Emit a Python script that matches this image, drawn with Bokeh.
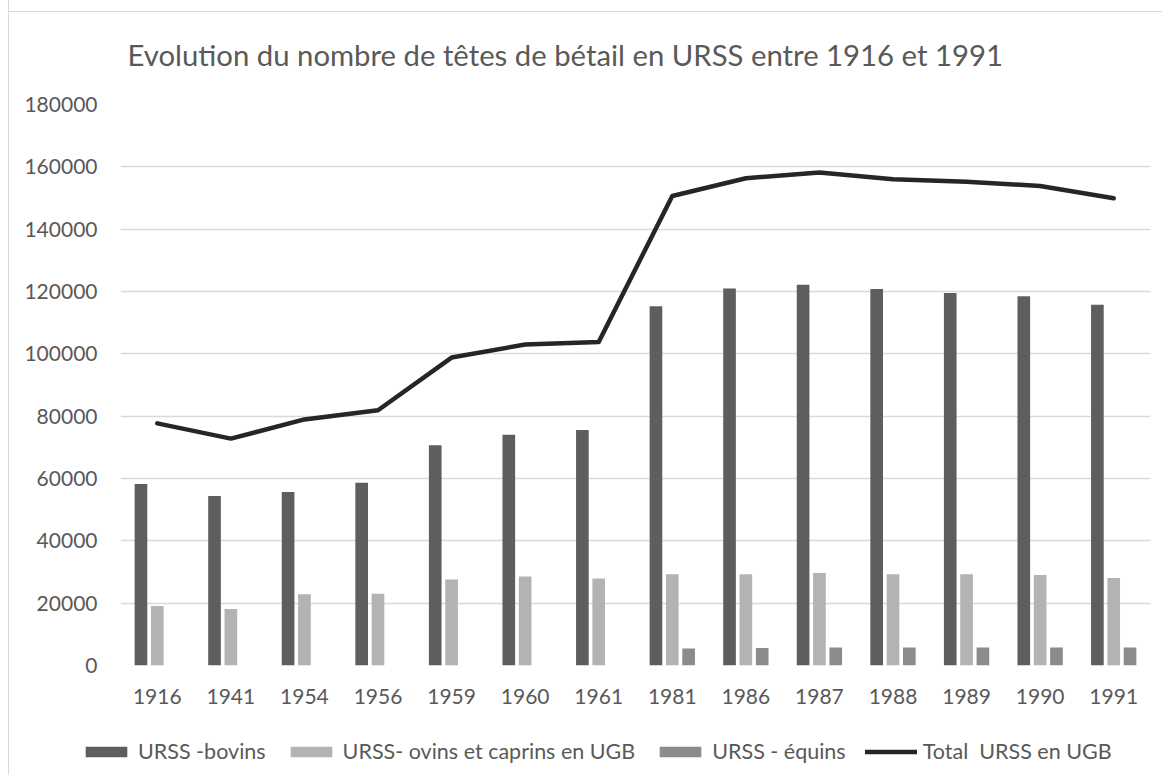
from bokeh.plotting import figure
from bokeh.models import ColumnDataSource, FactorRange, Legend, LegendItem, SingleIntervalTicker, NumeralTickFormatter
from bokeh.transform import dodge
from bokeh.embed import file_html
from bokeh.resources import INLINE

years = ["1916", "1941", "1954", "1956", "1959", "1960", "1961",
         "1981", "1986", "1987", "1988", "1989", "1990", "1991"]
bovins = [58200, 54350, 55650, 58650, 70650, 74050, 75600,
          115250, 121000, 122200, 120800, 119500, 118450, 115750]
ovins = [19100, 18100, 22900, 23000, 27600, 28550, 27950,
         29300, 29300, 29650, 29300, 29300, 29000, 28100]
equins = [0, 0, 0, 0, 0, 0, 0,
          5450, 5650, 5750, 5750, 5750, 5750, 5750]
total = [77700, 72800, 78950, 81900, 98800, 103000, 103800,
         150650, 156350, 158150, 156000, 155250, 153850, 149900]

title_text = "Evolution du nombre de têtes de bétail en URSS entre 1916 et 1991"
series_names = ["URSS -bovins", "URSS- ovins et caprins en UGB", "URSS - équins", "Total  URSS en UGB"]

FONT = "Lato"
TXT = "#595959"
GRID = "#d9d9d9"
C_BOV, C_OVI, C_EQU, C_TOT = "#5e5e5e", "#b3b3b3", "#8b8b8b", "#262626"

src = ColumnDataSource(dict(year=years, bovins=bovins, ovins=ovins, equins=equins, total=total))

p = figure(frame_width=1030, frame_height=561, output_backend="svg", toolbar_location=None,
           x_range=FactorRange(*years), y_range=(0, 180000),
           min_border_left=111, min_border_right=12, min_border_top=104, min_border_bottom=50)
p.margin = (0, 0, 0, 8)
p.styles = {"border-left": "1px solid #d9d9d9",
            "background": "linear-gradient(#d9d9d9, #d9d9d9) 0px 11px / 100% 1px no-repeat"}

p.title.text = title_text
p.title.text_font = FONT
p.title.text_font_size = "29.3px"
p.title.text_font_style = "normal"
p.title.text_color = TXT
p.title.align = "left"
p.title.offset = 7
p.title.standoff = 66

w = 0.172


def add_series(fig):
    a = fig.vbar(x=dodge("year", -0.222, range=fig.x_range), top="bovins", width=w, source=src,
                 fill_color=C_BOV, line_color=None)
    b = fig.vbar(x=dodge("year", 0.0, range=fig.x_range), top="ovins", width=w, source=src,
                 fill_color=C_OVI, line_color=None)
    c = fig.vbar(x=dodge("year", 0.222, range=fig.x_range), top="equins", width=w, source=src,
                 fill_color=C_EQU, line_color=None)
    d = fig.line(x="year", y="total", source=src, line_color=C_TOT, line_width=4.5,
                 line_cap="round", line_join="round")
    return [a, b, c, d]


add_series(p)

p.outline_line_color = None
p.background_fill_color = "white"
p.border_fill_alpha = 0

p.xgrid.grid_line_color = None
p.ygrid.grid_line_color = GRID
p.ygrid.grid_line_width = 1.5
p.yaxis.ticker = SingleIntervalTicker(interval=20000)
p.yaxis.formatter = NumeralTickFormatter(format="0")

for ax in (p.xaxis, p.yaxis):
    ax.axis_line_color = None
    ax.major_tick_line_color = None
    ax.minor_tick_line_color = None
    ax.major_label_text_font = FONT
    ax.major_label_text_font_size = "21px"
    ax.major_label_text_color = TXT
p.yaxis.major_label_standoff = 17
p.xaxis.major_label_standoff = 17

# legend strip below the chart; its series lie below its (empty) view
lg = figure(width=1150, height=60, output_backend="svg", toolbar_location=None,
            x_range=FactorRange(*years), y_range=(200000, 400000),
            x_axis_type=None, y_axis_type=None, min_border=0)
lg.margin = (0, 0, 0, 8)
lg.styles = {"border-left": "1px solid #d9d9d9"}
lg.outline_line_color = None
lg.background_fill_color = "white"
lg.border_fill_color = "white"
lg.xgrid.visible = False
lg.ygrid.visible = False
ks = add_series(lg)

legend = Legend(items=[LegendItem(label=n, renderers=[r]) for n, r in zip(series_names, ks)],
                orientation="horizontal", location=(71, 11),
                label_text_font=FONT, label_text_font_size="21.5px", label_text_color=TXT,
                glyph_width=52, glyph_height=13, label_standoff=6, spacing=19,
                border_line_color=None, background_fill_alpha=0, padding=0, margin=0)
lg.add_layout(legend, "center")

open("out.html", "w").write(file_html([p, lg], INLINE))
